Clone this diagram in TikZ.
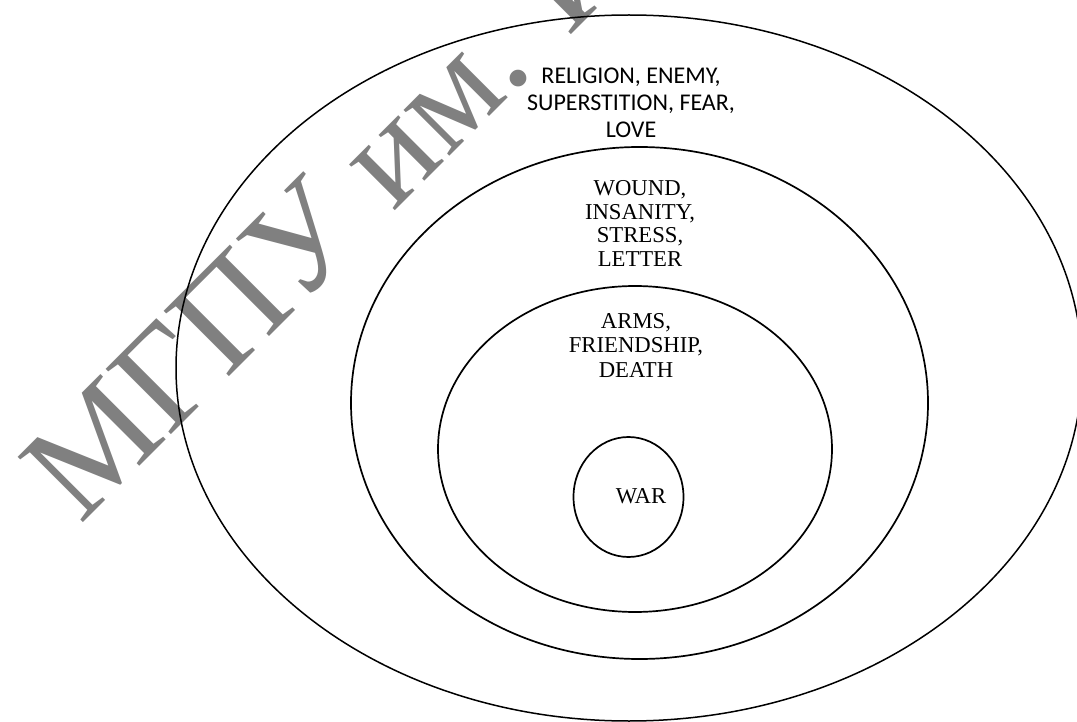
\documentclass[tikz,border=0pt]{standalone}
\usepackage{fontspec}
\setmainfont{Liberation Serif}
\newfontfamily\calfont{Carlito}
\newfontfamily\wmfont{Liberation Serif}
\definecolor{wmgray}{HTML}{808080}
\begin{document}
\begin{tikzpicture}[x=1pt,y=-1pt,
  ring/.style={draw=black,line width=1.7pt},
  lbl/.style={inner sep=0pt,anchor=north,align=center,text=black},
  calbl/.style={lbl,font=\calfont\fontsize{24}{27}\selectfont},
  tmlbl/.style={lbl,font=\fontsize{22.7}{24}\selectfont}]
\useasboundingbox (0,0) rectangle (1077,722);
\fill[white] (0,0) rectangle (1077,722);
% watermark
\node[rotate=45,anchor=base west,inner sep=0pt,text=wmgray,
  font=\wmfont\fontsize{141}{141}\selectfont] (wm) at (80,526) {МГПУ им. И.П. Шамякина};
% rings
\draw[ring,line width=1.5pt] (629,368) ellipse [x radius=453,y radius=353];
\draw[ring] (639.5,403) ellipse [x radius=288.5,y radius=256];
\draw[ring] (635,449) ellipse [x radius=197,y radius=163];
\draw[ring] (628.5,497) ellipse [x radius=55,y radius=60];
% labels
\node[calbl] (outerlbl) at (631,68) {RELIGION, ENEMY,\\SUPERSTITION, FEAR,\\LOVE};
\node[tmlbl,font=\fontsize{22.7}{23.5}\selectfont] (secondlbl) at (640,180.5) {WOUND,\\INSANITY,\\STRESS,\\LETTER};
\node[tmlbl,font=\fontsize{22.7}{24.5}\selectfont] (thirdlbl) at (636,313) {ARMS,\\FRIENDSHIP,\\DEATH};
\node[tmlbl] (warlbl) at (641,488) {WAR};
\end{tikzpicture}
\end{document}
